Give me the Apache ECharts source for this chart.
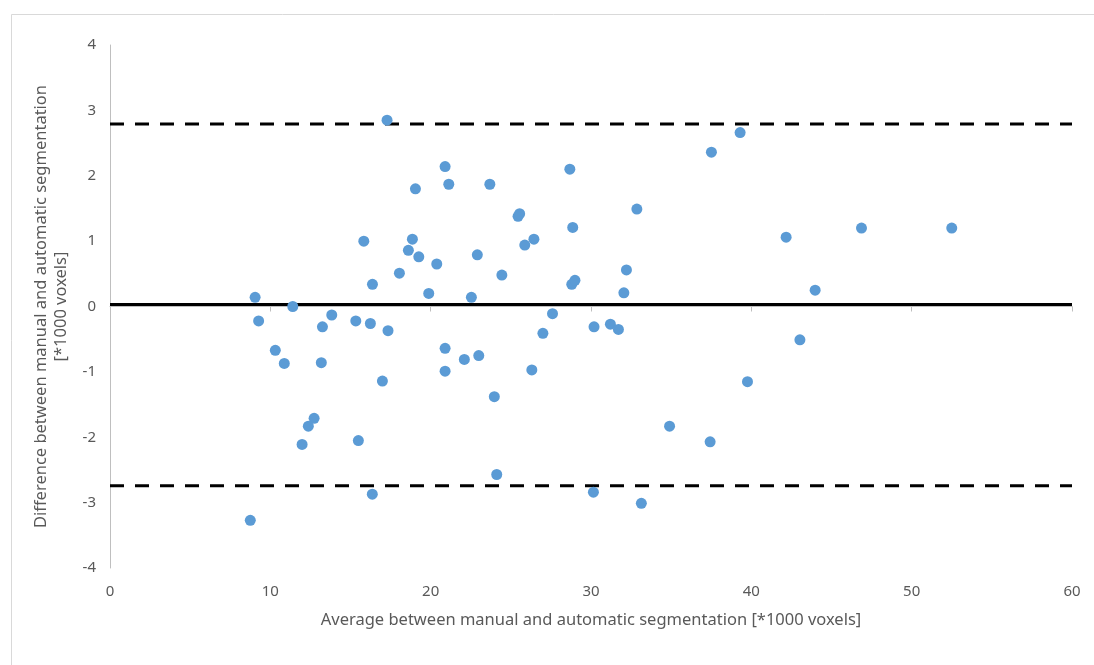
<!DOCTYPE html>
<html>
<head>
<meta charset="utf-8">
<style>
html,body{margin:0;padding:0;background:#fff;}
#c{width:1094px;height:665px;}
</style>
<script src="https://cdn.jsdelivr.net/npm/echarts@6/dist/echarts.min.js"></script>
</head>
<body>
<div id="c"></div>
<script>
// Average between manual and automatic segmentation [*1000 voxels]
const avgValues = [
  9.05, 9.27, 11.4, 10.31, 10.87, 13.83, 13.25, 13.18, 12.73, 12.37, 11.98, 8.75,
  15.33, 16.24, 17.34, 16.99, 15.49, 16.36, 20.9, 20.9, 22.1, 23.0, 23.97, 24.12,
  17.28, 20.9, 21.13, 19.05, 23.69, 15.83, 18.86, 18.61, 19.26, 20.38, 22.91, 18.05,
  16.37, 19.88, 22.54, 24.44, 28.68, 25.45, 25.55, 25.87, 26.44, 28.86, 32.86, 28.8,
  29.0, 32.21, 32.05, 37.51, 39.3, 42.17, 43.98, 46.87, 52.5, 27.6, 27.0, 26.31,
  30.19, 31.21, 31.71, 30.15, 33.14, 34.9, 37.43, 39.76, 43.03
];
// Difference between manual and automatic segmentation [*1000 voxels]
const diffValues = [
  0.14, -0.22, 0.0, -0.67, -0.87, -0.13, -0.31, -0.86, -1.71, -1.83, -2.11, -3.27,
  -0.22, -0.26, -0.37, -1.14, -2.05, -2.87, -0.64, -0.99, -0.81, -0.75, -1.38, -2.57,
  2.85, 2.14, 1.87, 1.80, 1.87, 1.00, 1.03, 0.86, 0.76, 0.65, 0.79, 0.51,
  0.34, 0.20, 0.14, 0.48, 2.10, 1.38, 1.42, 0.94, 1.03, 1.21, 1.49, 0.34,
  0.40, 0.56, 0.21, 2.36, 2.66, 1.06, 0.25, 1.20, 1.20, -0.11, -0.41, -0.97,
  -0.31, -0.27, -0.35, -2.84, -3.01, -1.83, -2.07, -1.15, -0.51
];
const meanDiff = 0.03;
const upperLoA = 2.79;
const lowerLoA = -2.74;
const xRange = [0, 60];
const yRange = [-4, 4];
const xTitle = 'Average between manual and automatic segmentation [*1000 voxels]';
const yTitle = 'Difference between manual and automatic segmentation\n[*1000 voxels]';

const points = avgValues.map((x, i) => [x, diffValues[i]]);
const hline = v => [[xRange[0], v], [xRange[1], v]];

const textColor = '#595959';
const font = 'Noto Sans';

const chart = echarts.init(document.getElementById('c'), null, {renderer: 'canvas'});
chart.setOption({
  backgroundColor: '#fff',
  animation: false,
  graphic: [{
    type: 'rect', left: 9, top: 12, silent: true, z: -10,
    shape: {x: 0, y: 0, width: 1100, height: 700},
    style: {fill: 'none', stroke: '#d9d9d9', lineWidth: 1}
  }],
  grid: {left: 110, right: 22, top: 45, bottom: 97, containLabel: false},
  xAxis: [{
    type: 'value', min: xRange[0], max: xRange[1], interval: 10,
    position: 'bottom',
    axisLine: {show: false, onZero: false},
    axisTick: {show: false},
    splitLine: {show: false},
    axisLabel: {color: textColor, fontSize: 15, fontFamily: font, margin: 16},
    name: xTitle, nameLocation: 'middle', nameGap: 44,
    nameTextStyle: {color: textColor, fontSize: 16.5, fontFamily: font}
  }, {
    type: 'value', min: xRange[0], max: xRange[1], interval: 10,
    position: 'bottom',
    axisLine: {show: true, onZero: true, lineStyle: {color: '#bfbfbf', width: 1}},
    axisTick: {show: true, length: 5, lineStyle: {color: '#bfbfbf'}},
    axisLabel: {show: false},
    splitLine: {show: false}
  }],
  yAxis: {
    type: 'value', min: yRange[0], max: yRange[1], interval: 1,
    axisLine: {show: true, onZero: false, lineStyle: {color: '#bfbfbf', width: 1}},
    axisTick: {show: false},
    splitLine: {show: false},
    axisLabel: {color: textColor, fontSize: 15, fontFamily: font, margin: 14},
    name: yTitle, nameLocation: 'middle', nameGap: 38, nameRotate: 90,
    nameTextStyle: {color: textColor, fontSize: 16.5, fontFamily: font, lineHeight: 20, align: 'center'}
  },
  series: [{
    type: 'line', data: hline(meanDiff), xAxisIndex: 0, symbol: 'none',
    lineStyle: {color: '#000', width: 3}, z: 3
  }, {
    type: 'line', data: hline(upperLoA), xAxisIndex: 0, symbol: 'none',
    lineStyle: {color: '#000', width: 3, type: [14, 11]}, z: 3
  }, {
    type: 'line', data: hline(lowerLoA), xAxisIndex: 0, symbol: 'none',
    lineStyle: {color: '#000', width: 3, type: [14, 11]}, z: 3
  }, {
    type: 'scatter', data: points, xAxisIndex: 0, symbol: 'circle', symbolSize: 11,
    itemStyle: {color: '#5b9bd5', opacity: 1}, z: 5
  }]
});
</script>
</body>
</html>
